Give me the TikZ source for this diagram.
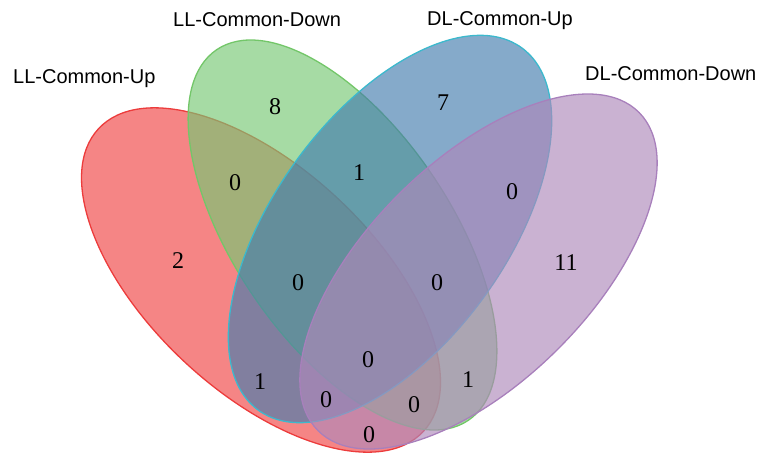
\documentclass[tikz,border=0pt]{standalone}
\usepackage{fontspec}
\setmainfont{Liberation Serif}
\newfontfamily\labelfont{Liberation Sans}

\definecolor{llupfill}{RGB}{240,68,68}
\definecolor{llupline}{RGB}{236,60,60}
\definecolor{lldownfill}{RGB}{118,200,115}
\definecolor{lldownline}{RGB}{115,198,105}
\definecolor{dlupfill}{RGB}{68,124,174}
\definecolor{dlupline}{RGB}{60,185,205}
\definecolor{dldownfill}{RGB}{174,136,186}
\definecolor{dldownline}{RGB}{168,128,188}

\begin{document}
\begin{tikzpicture}[x=1pt,y=-1pt,
  setshape/.style={line width=1.3pt, fill opacity=0.65},
  count/.style={font=\fontsize{24}{24}\selectfont, inner sep=0pt},
  setlabel/.style={font=\labelfont\fontsize{20}{20}\selectfont, inner sep=0pt, anchor=base west}]
\useasboundingbox (0,0) rectangle (762,455);

% the four sets, drawn in stacking order
\path[setshape, fill=llupfill, draw=llupline, shift={(261,280)}, rotate=-43]
  (0,0) ellipse (222 and 112);
\path[setshape, fill=lldownfill, draw=lldownline, shift={(342.5,235)}, rotate=-55.8]
  (0,0) ellipse (224 and 108);
\path[setshape, fill=dlupfill, draw=dlupline, shift={(390,229)}, rotate=54]
  (0,0) ellipse (224 and 116);
\path[setshape, fill=dldownfill, draw=dldownline, shift={(478.5,271.5)}, rotate=44.7]
  (0,0) ellipse (226 and 111);

% set names
\node[setlabel] (nameA) at (13,83) {LL-Common-Up};
\node[setlabel] (nameB) at (173,27) {LL-Common-Down};
\node[setlabel] (nameC) at (427,25) {DL-Common-Up};
\node[setlabel] (nameD) at (585,80) {DL-Common-Down};

% region counts
\node[count] (nB)    at (275,107) {8};
\node[count] (nC)    at (443,103) {7};
\node[count] (nA)    at (178,261) {2};
\node[count] (nD)    at (566,263) {11};
\node[count] (nAB)   at (235,183) {0};
\node[count] (nBC)   at (359,173) {1};
\node[count] (nCD)   at (512,192) {0};
\node[count] (nABC)  at (298,283) {0};
\node[count] (nBCD)  at (437,283) {0};
\node[count] (nABCD) at (368,360) {0};
\node[count] (nAC)   at (260,382) {1};
\node[count] (nBD)   at (468,380) {1};
\node[count] (nACD)  at (326,400) {0};
\node[count] (nABD)  at (414,405) {0};
\node[count] (nAD)   at (369,435) {0};
\end{tikzpicture}
\end{document}
